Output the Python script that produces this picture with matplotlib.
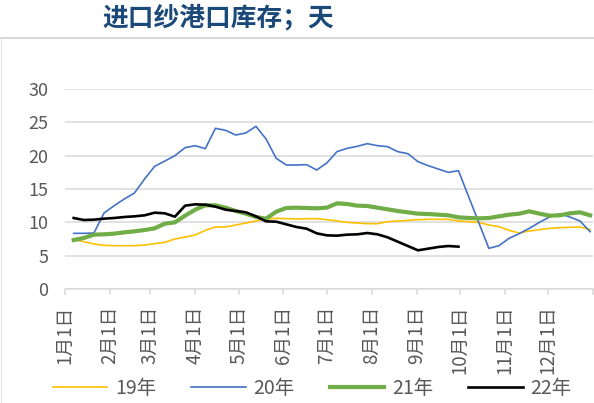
import numpy as np
import matplotlib.pyplot as plt

plt.rcParams['font.family'] = ['Noto Sans CJK SC', 'DejaVu Sans']

# weekly readings, first week ends 7 Jan
first_week = np.datetime64('2022-01-07')

y19 = [7.45, 7.1, 6.75, 6.55, 6.5, 6.5, 6.5, 6.6, 6.8, 7.0,
       7.5, 7.8, 8.1, 8.8, 9.3, 9.3, 9.6, 9.9, 10.2, 10.5,
       10.6, 10.55, 10.5, 10.55, 10.55, 10.4, 10.2, 10.0, 9.9, 9.8,
       9.8, 10.1, 10.2, 10.3, 10.4, 10.45, 10.45, 10.45, 10.2, 10.1,
       10.0, 9.6, 9.35, 8.8, 8.4, 8.7, 8.9, 9.1, 9.2, 9.25,
       9.3, 8.9]
y20 = [8.35, 8.35, 8.4, 11.4, 12.5, 13.5, 14.4, 16.5, 18.4, 19.2,
       20.0, 21.2, 21.5, 21.05, 24.1, 23.8, 23.1, 23.4, 24.4, 22.5,
       19.6, 18.6, 18.6, 18.65, 17.85, 18.9, 20.6, 21.1, 21.4, 21.8,
       21.5, 21.35, 20.6, 20.3, 19.1, 18.5, 18.0, 17.5, 17.75, None,
       None, 6.1, 6.5, 7.6, 8.3, 9.1, 10.0, 10.8, 11.3, 10.8,
       10.2, 8.6]
y21 = [7.35, 7.65, 8.15, 8.2, 8.3, 8.5, 8.65, 8.85, 9.1, 9.8,
       10.0, 11.0, 11.9, 12.55, 12.55, 12.2, 11.7, 11.3, 10.8, 10.55,
       11.6, 12.15, 12.2, 12.15, 12.1, 12.2, 12.85, 12.75, 12.5, 12.45,
       12.2, 11.95, 11.7, 11.5, 11.3, 11.25, 11.15, 11.05, 10.75, 10.65,
       10.6, 10.65, 10.9, 11.15, 11.3, 11.65, 11.3, 11.0, 11.05, 11.35,
       11.5, 11.05]
y22 = [10.65, 10.35, 10.4, 10.55, 10.65, 10.8, 10.9, 11.05, 11.45, 11.35,
       10.85, 12.5, 12.7, 12.65, 12.35, 11.9, 11.7, 11.5, 10.9, 10.15,
       10.1, 9.7, 9.3, 9.05, 8.35, 8.05, 8.0, 8.15, 8.2, 8.4,
       8.2, 7.75, 7.1, 6.45, 5.8, 6.05, 6.3, 6.45, 6.35]

series_names = ['19年', '20年', '21年', '22年']
month_labels = ['1月1日', '2月1日', '3月1日', '4月1日', '5月1日', '6月1日',
                '7月1日', '8月1日', '9月1日', '10月1日', '11月1日', '12月1日']


def weekly(values):
    weeks = first_week + 7 * np.arange(len(values))
    keep = np.array([v is not None for v in values])
    return weeks[keep], np.array([v for v in values if v is not None], dtype=float)


fig = plt.figure(figsize=(5.94, 4.03), dpi=100)
ax = fig.add_axes([65 / 594, 114 / 403, 528 / 594, 200 / 403])

styles = [('#FFC000', 1.2), ('#4472C4', 1.2), ('#70AD47', 3.0), ('#000000', 1.9)]
for name, vals, (color, lw) in zip(series_names, [y19, y20, y21, y22], styles):
    x, y = weekly(vals)
    ax.plot(x, y, color=color, lw=lw, label=name, solid_joinstyle='round')

ax.set_xlim(np.datetime64('2022-01-01'), np.datetime64('2023-01-01'))
ax.set_ylim(0, 30)
ax.set_yticks(range(0, 31, 5))
month_starts = np.arange('2022-01', '2023-01', dtype='datetime64[M]').astype('datetime64[D]')
ax.set_xticks(month_starts, month_labels, rotation=90)
ax.set_xticks([np.datetime64('2023-01-01')], minor=True)

ax.grid(axis='y', color='#D9D9D9', lw=1.1)
ax.set_axisbelow(True)
for side in ['top', 'right', 'left']:
    ax.spines[side].set_visible(False)
ax.spines['bottom'].set_color('#D9D9D9')
ax.spines['bottom'].set_linewidth(1.1)
ax.tick_params(axis='y', length=0, pad=12, labelsize=13, labelcolor='#595959')
ax.tick_params(axis='x', which='both', length=4, width=1.1, color='#D9D9D9',
               labelsize=13.5, labelcolor='#595959', pad=8)

fig.legend(loc='center', bbox_to_anchor=(0.526, 15 / 403), ncol=4, frameon=False,
           fontsize=14, handlelength=2.8, handletextpad=0.4, columnspacing=1.8,
           labelcolor='#595959')

fig.text(102 / 594, 1 - 18 / 403, '进口纱港口库存；天', fontsize=18.5, fontweight='bold',
         color='#1B4A7A', va='center', ha='left')
fig.add_artist(plt.Line2D([0, 1], [1 - 38 / 403] * 2, transform=fig.transFigure,
                          color='#D9D9D9', lw=1.5))
fig.add_artist(plt.Line2D([0.6 / 594] * 2, [0, 1 - 38 / 403], transform=fig.transFigure,
                          color='#E3E3E3', lw=0.8))

fig.savefig('out.png', dpi=100)
